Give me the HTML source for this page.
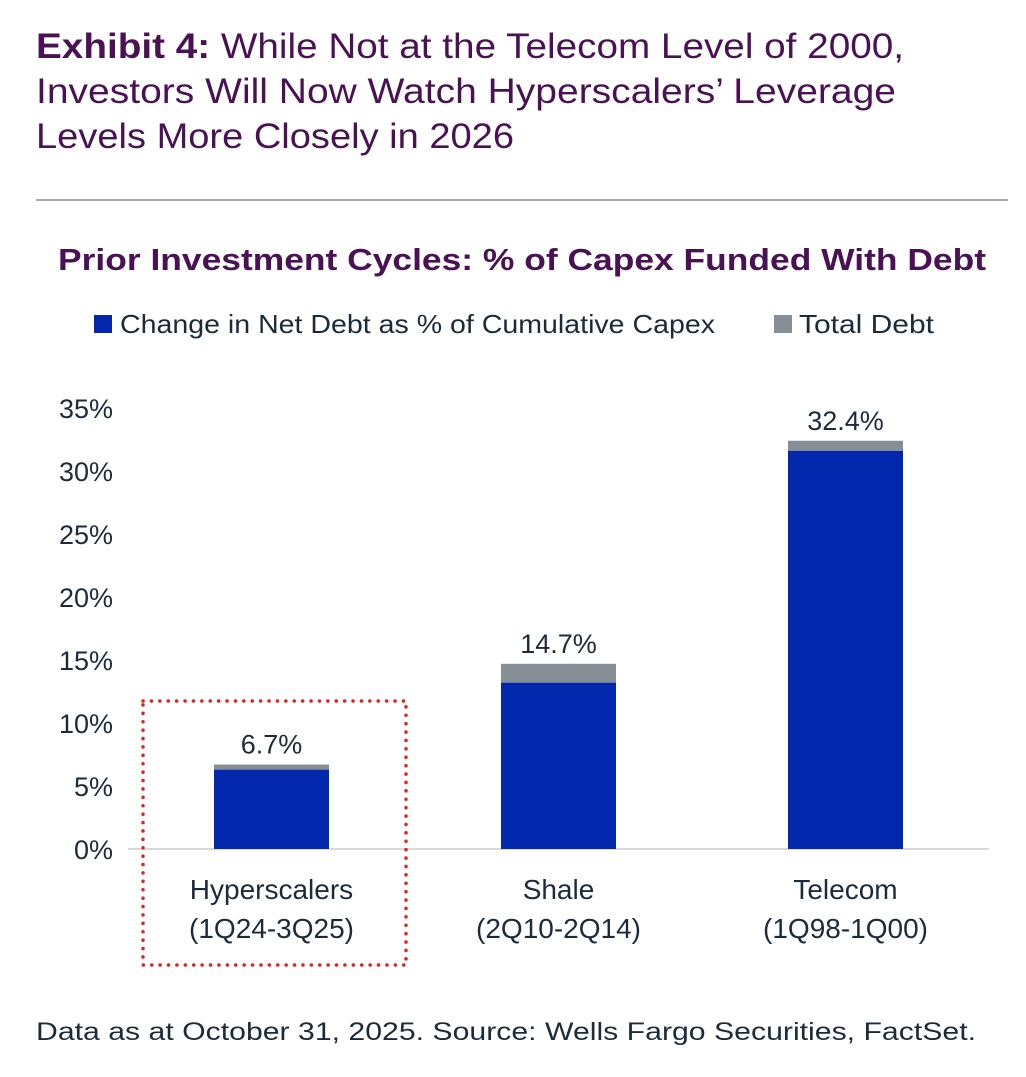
<!DOCTYPE html>
<html><head><meta charset="utf-8"><style>
body{margin:0;background:#fff;width:1026px;height:1072px;overflow:hidden;font-family:"Liberation Sans",sans-serif}
</style></head><body>
<svg id="chart" width="1026" height="1072" xmlns="http://www.w3.org/2000/svg" font-family="Liberation Sans, sans-serif">
<g fill="#4a1154" font-size="35">
<text x="36" y="58" textLength="868" lengthAdjust="spacingAndGlyphs"><tspan font-weight="bold">Exhibit 4:</tspan> While Not at the Telecom Level of 2000,</text>
<text x="36" y="103" textLength="860" lengthAdjust="spacingAndGlyphs">Investors Will Now Watch Hyperscalers’ Leverage</text>
<text x="36" y="148" textLength="478" lengthAdjust="spacingAndGlyphs">Levels More Closely in 2026</text>
</g>
<line x1="36" y1="200" x2="1008" y2="200" stroke="#8a8f96" stroke-width="1.5"/>
<text x="58" y="270" font-size="31" font-weight="bold" fill="#4a1154" textLength="928" lengthAdjust="spacingAndGlyphs">Prior Investment Cycles: % of Capex Funded With Debt</text>
<g font-size="26" fill="#1c2b3a">
<rect x="94" y="315" width="18" height="18" fill="#0328ae"/>
<text x="120" y="333" textLength="595" lengthAdjust="spacingAndGlyphs">Change in Net Debt as % of Cumulative Capex</text>
<rect x="774" y="315" width="18" height="18" fill="#878f96"/>
<text x="799" y="333" textLength="135" lengthAdjust="spacingAndGlyphs">Total Debt</text>
</g>
<g id="plot"></g>
<rect x="143" y="701" width="263" height="264" fill="none" stroke="#e0241b" stroke-width="3.5" stroke-dasharray="0.1,8.3" stroke-linecap="round"/>
<text x="36" y="1040" font-size="25" fill="#1c2b3a" textLength="940" lengthAdjust="spacingAndGlyphs">Data as at October 31, 2025. Source: Wells Fargo Securities, FactSet.</text>
</svg>
<script>
const categories=["Hyperscalers","Shale","Telecom"];
const periods=["(1Q24-3Q25)","(2Q10-2Q14)","(1Q98-1Q00)"];
const netDebt=[6.3,13.2,31.6];
const totalDebt=[6.7,14.7,32.4];
const totalLabels=["6.7%","14.7%","32.4%"];
const yTicks=[0,5,10,15,20,25,30,35];
const NS="http://www.w3.org/2000/svg";
const plot=document.getElementById('plot');
const y0=849,pxPer=12.6;
function yScale(v){return y0-v*pxPer;}
const bandStart=128,bandW=287,barW=115;
function xCenter(i){return bandStart+bandW*(i+0.5);}
function mk(tag,attrs){const e=document.createElementNS(NS,tag);for(const k in attrs)e.setAttribute(k,attrs[k]);plot.appendChild(e);return e;}
yTicks.forEach(t=>{
  const e=mk('text',{x:113,y:yScale(t)+10,'font-size':27,fill:'#1c2b3a','text-anchor':'end'});
  
  
  e.textContent=t+'%';
});
const ax=mk('line',{x1:128,y1:y0,x2:989,y2:y0,stroke:'#d9d9d9','stroke-width':2});


categories.forEach((c,i)=>{
  const cx=xCenter(i);
  const g=mk('rect',{x:cx-barW/2,y:yScale(totalDebt[i]),width:barW,height:yScale(netDebt[i])-yScale(totalDebt[i]),fill:'#878f96'});
  
  
  const b=mk('rect',{x:cx-barW/2,y:yScale(netDebt[i]),width:barW,height:y0-yScale(netDebt[i]),fill:'#0328ae'});
  
  
  const l=mk('text',{x:cx,y:yScale(totalDebt[i])-11,'font-size':27,fill:'#1c2b3a','text-anchor':'middle'});
  
  
  l.textContent=totalLabels[i];
  const c1=mk('text',{x:cx,y:899,'font-size':28,fill:'#1c2b3a','text-anchor':'middle'});
  
  
  c1.textContent=c;
  const c2=mk('text',{x:cx,y:938,'font-size':28,fill:'#1c2b3a','text-anchor':'middle'});
  
  
  c2.textContent=periods[i];
});
</script>
</body></html>
